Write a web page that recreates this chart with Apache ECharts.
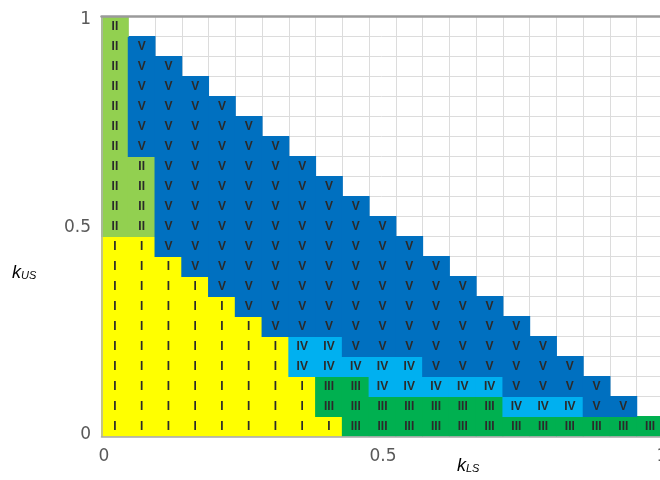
<!DOCTYPE html>
<html>
<head>
<meta charset="utf-8">
<script src="https://cdn.jsdelivr.net/npm/echarts@6/dist/echarts.min.js"></script>
<style>
  html, body { margin: 0; padding: 0; background: #ffffff; }
  #chart { width: 660px; height: 480px; }
</style>
</head>
<body>
<div id="chart"></div>
<script>
// Grid steps of the two coefficients
const kLS = ['0', '0.05', '0.1', '0.15', '0.2', '0.25', '0.3', '0.35', '0.4', '0.45', '0.5',
             '0.55', '0.6', '0.65', '0.7', '0.75', '0.8', '0.85', '0.9', '0.95', '1'];
const kUS = ['0', '0.05', '0.1', '0.15', '0.2', '0.25', '0.3', '0.35', '0.4', '0.45', '0.5',
             '0.55', '0.6', '0.65', '0.7', '0.75', '0.8', '0.85', '0.9', '0.95', '1'];

// Region code of every cell: one string per k_US row (k_US = 0 first),
// one digit per k_LS column; only cells with k_LS + k_US <= 1 exist.
const zoneRows = [
  '111111111333333333333', // k_US = 0
  '11111111333333344455',  // 0.05
  '1111111133444445555',   // 0.10
  '111111144444555555',    // 0.15
  '11111114455555555',     // 0.20
  '1111115555555555',      // 0.25
  '111115555555555',       // 0.30
  '11115555555555',        // 0.35
  '1115555555555',         // 0.40
  '115555555555',          // 0.45
  '22555555555',           // 0.50
  '2255555555',            // 0.55
  '225555555',             // 0.60
  '22555555',              // 0.65
  '2555555',               // 0.70
  '255555',                // 0.75
  '25555',                 // 0.80
  '2555',                  // 0.85
  '255',                   // 0.90
  '25',                    // 0.95
  '2'                      // 1.00
];

const zoneNames = ['I', 'II', 'III', 'IV', 'V'];
const zoneColors = ['#FFFF00', '#92D050', '#00B050', '#00B0F0', '#0070C0'];

// Tick labels of the overlay scales
const tickValues = [0, 0.5, 1];

const cells = [];
zoneRows.forEach(function (row, j) {
  for (let i = 0; i < row.length; i++) {
    cells.push([i, j, Number(row[i])]);
  }
});

const chart = echarts.init(document.getElementById('chart'), null, { renderer: 'canvas' });

const labelFont = 'DejaVu Sans';
const titleRich = {
  k: { fontSize: 18, fontStyle: 'italic', fontFamily: 'Liberation Sans', color: '#404040' },
  s: { fontSize: 11, fontStyle: 'italic', fontFamily: 'Liberation Sans', color: '#404040', padding: [6, 0, 0, 0] }
};

// One filled cell per data item, with its region numeral in the middle.
// Cells overlap by a fraction of a pixel so neighbouring fills join seamlessly.
function renderCell(params, api) {
  const c = api.coord([api.value(0), api.value(1)]);
  const s = api.size([1, 1]);
  const code = api.value(2);
  return {
    type: 'group',
    children: [
      {
        type: 'rect',
        shape: { x: c[0] - s[0] / 2 - 0.5, y: c[1] - s[1] / 2 - 0.5, width: s[0] + 1, height: s[1] + 1 },
        style: { fill: api.visual('color') }
      },
      {
        type: 'text',
        z2: 10,
        style: {
          text: zoneNames[code - 1],
          x: c[0], y: c[1] + 0.5,
          align: 'center', verticalAlign: 'middle',
          font: 'bold 12px "Liberation Sans"',
          fill: '#2a2a2a'
        }
      }
    ]
  };
}

chart.setOption({
  animation: false,
  backgroundColor: '#ffffff',
  grid: [
    { left: 101.5, top: 16.5, width: 562, height: 420, outerBoundsMode: 'none', containLabel: false },
    { left: 104, top: 19.5, width: 558, height: 415.5, outerBoundsMode: 'none', containLabel: false }
  ],
  xAxis: [
    {
      type: 'category', gridIndex: 0, data: kLS, position: 'bottom', z: 0,
      axisLine: { show: false },
      axisTick: { show: false },
      axisLabel: { show: false, interval: 0 },
      splitLine: { show: true, interval: 0, lineStyle: { color: '#dcdcdc', width: 1 } }
    },
    {
      type: 'value', gridIndex: 1, min: 0, max: 1, interval: 0.5,
      axisLine: { show: false }, axisTick: { show: false }, splitLine: { show: false },
      axisLabel: {
        fontSize: 17, color: '#595959', fontFamily: labelFont, margin: 13,
        formatter: function (v) { return tickValues.indexOf(v) >= 0 ? String(v) : ''; }
      }
    },
    {
      type: 'category', gridIndex: 0, data: kLS, position: 'top', z: 20,
      axisLine: { show: true, lineStyle: { color: '#9a9a9a', width: 2.5 } },
      axisTick: { show: false }, axisLabel: { show: false }, splitLine: { show: false }
    },
    {
      type: 'category', gridIndex: 0, data: kLS, position: 'bottom', z: 20,
      axisLine: { show: true, lineStyle: { color: '#a8a8a8', width: 1.5 } },
      axisTick: { show: false }, axisLabel: { show: false }, splitLine: { show: false }
    }
  ],
  yAxis: [
    {
      type: 'category', gridIndex: 0, data: kUS, position: 'left', z: 0,
      axisLine: { show: false },
      axisTick: { show: false },
      axisLabel: { show: false, interval: 0 },
      splitLine: { show: true, interval: 0, lineStyle: { color: '#dcdcdc', width: 1 } }
    },
    {
      type: 'value', gridIndex: 1, min: 0, max: 1, interval: 0.5,
      axisLine: { show: false }, axisTick: { show: false }, splitLine: { show: false },
      axisLabel: {
        fontSize: 17, color: '#595959', fontFamily: labelFont, margin: 13,
        formatter: function (v) { return tickValues.indexOf(v) >= 0 ? String(v) : ''; }
      }
    },
    {
      type: 'category', gridIndex: 0, data: kUS, position: 'left', z: 20,
      axisLine: { show: true, lineStyle: { color: '#b0b0b0', width: 1.5 } },
      axisTick: { show: false }, axisLabel: { show: false }, splitLine: { show: false }
    }
  ],
  visualMap: {
    type: 'piecewise', show: false, dimension: 2, seriesIndex: 0,
    pieces: zoneNames.map(function (n, k) { return { value: k + 1, color: zoneColors[k] }; })
  },
  series: [
    {
      type: 'custom',
      xAxisIndex: 0, yAxisIndex: 0,
      z: 10,
      data: cells,
      renderItem: renderCell,
      silent: true,
      clip: true
    }
  ],
  graphic: [
    {
      type: 'text', left: 12, top: 264,
      style: { text: '{k|k}{s|US}', rich: titleRich }
    },
    {
      type: 'text', left: 457, top: 457,
      style: { text: '{k|k}{s|LS}', rich: titleRich }
    }
  ]
});
</script>
</body>
</html>
